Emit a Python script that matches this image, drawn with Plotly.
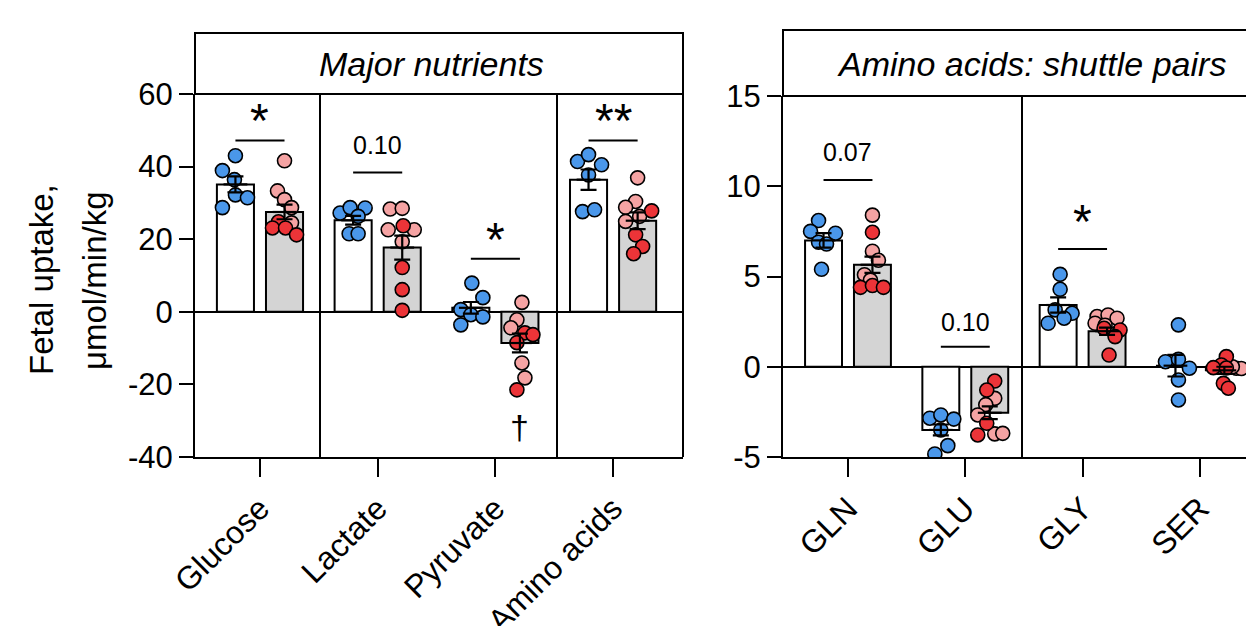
import plotly.graph_objects as go

W, H = 1246, 626

# ---------------- data ----------------
left_categories = ["Glucose", "Lactate", "Pyruvate", "Amino acids"]
right_categories = ["GLN", "GLU", "GLY", "SER"]

left_yticks = [-40, -20, 0, 20, 40, 60]
right_yticks = [-5, 0, 5, 10, 15]

left_ctrl_mean = [35.1, 25.2, 1.1, 36.4]
left_ctrl_sem = [2.2, 1.2, 1.6, 2.8]
left_trt_mean = [27.5, 17.7, -8.6, 25.1]
left_trt_sem = [2.0, 3.3, 2.6, 2.3]

left_ctrl_points = [
    [43.0, 38.9, 36.4, 32.2, 31.4, 28.7],
    [27.2, 28.7, 28.6, 26.3, 21.5, 21.5],
    [7.9, 3.9, 0.6, -0.8, -1.4, -3.6],
    [41.4, 43.3, 40.5, 37.7, 27.6, 28.1],
]
left_trt_points = [
    [41.6, 33.3, 30.9, 28.7, 24.8, 24.5, 23.1, 23.1, 21.2],
    [28.3, 28.5, 23.7, 22.6, 22.6, 19.3, 12.2, 6.1, 0.4],
    [2.6, -2.2, -4.4, -5.8, -6.3, -8.5, -14.1, -18.2, -21.5],
    [36.9, 30.4, 28.8, 27.8, 24.9, 26.3, 21.2, 18.0, 16.0],
]
left_trt_subgroup = ["LLLLDLDDD", "LLDLLLDDD", "LLLDDDLLD", "LLLDLLDDD"]

right_ctrl_mean = [7.0, -3.5, 3.42, 0.06]
right_ctrl_sem = [0.4, 0.3, 0.42, 0.6]
right_trt_mean = [5.65, -2.55, 1.97, -0.2]
right_trt_sem = [0.45, 0.35, 0.2, 0.2]

right_ctrl_points = [
    [8.1, 7.5, 7.4, 6.9, 6.8, 5.4],
    [-2.85, -2.67, -2.9, -3.5, -4.37, -4.83],
    [5.12, 4.29, 3.15, 2.96, 2.69, 2.41],
    [2.32, 0.28, 0.41, -0.08, -0.73, -1.84],
]
right_trt_points = [
    [8.4, 7.45, 6.4, 5.9, 5.1, 4.4, 4.5, 4.4, 4.8],
    [-0.79, -1.29, -1.75, -2.1, -2.67, -3.13, -3.78, -3.72, -3.69],
    [2.78, 2.87, 2.69, 2.41, 2.04, 2.13, 1.67, 2.3, 0.65],
    [0.56, 0.1, -0.05, -0.07, -0.08, -0.1, 0.0, -0.92, -1.19],
]
right_trt_subgroup = ["LDLLLDDDL", "DDLLLDDLL", "LLLLDDDLD", "DDDDLLLDD"]

left_sig_labels = ["*", "0.10", "*", "**"]
left_sig_line_y = [47.2, 38.4, 14.6, 47.2]
left_sig_text_y = [54.3, 46.0, 21.7, 54.3]
right_sig_labels = ["0.07", "0.10", "*", ""]
right_sig_line_y = [10.35, 1.11, 6.53, None]
right_sig_text_y = [11.9, 2.5, 8.4, None]

left_dagger_y = -31.7

# ---------------- layout helpers (positions / styles) ----------------
PX_PER_CAT = 117.5
OFF = 24.5 / PX_PER_CAT
BAR_W = 37 / PX_PER_CAT

left_ctrl_jit = [[0, -13, -1, 0, 12, -13], [-13, -3, 12, 5, -4, 5],
                 [1, 12, -10, 0, 12, -10], [-11, 0, 13, 0, -6, 6]]
left_trt_jit = [[0, -7, 0, 7, -6, 7, -12, 1, 12], [-12, 0, 1, -14, 12, 0, 0, 0, 0],
                [2, -3, -9, 5, 13, -3, 2, 5, -3], [0, -2, -12, 14, -12, 2, -2, 5, -4]]
right_ctrl_jit = [[-5, -13, 12, -5, 3, -2], [-11, 0, 13, 0, 7, -6],
                  [2, 2, -3, 14, 6, -10], [3, -10, 3, 14, 3, 3]]
right_trt_jit = [[0, 0, 0, 6, -8, -12, 0, 11, -2], [5, -3, 5, -4, -12, -3, -12, 5, 13],
                 [-10, 1, 10, -12, 13, -3, 8, -2, 2], [2, -3, -11, 2, 12, 17, 8, -1, 4]]

BLUE = "#4a97ea"
PINK = "#f5a3a3"
RED = "#ec3438"
GRAY = "#d4d4d4"
FONT = "Liberation Sans, Arial, sans-serif"
MSIZE = 14

fig = go.Figure()


def add_panel(xr, yr, cats, cm, cs, tm, ts, cpts, tpts, tsub, cjit, tjit):
    n = len(cats)
    xc = [i - OFF for i in range(n)]
    xt = [i + OFF for i in range(n)]
    fig.add_trace(go.Bar(x=xc, y=cm, width=BAR_W, xaxis=xr, yaxis=yr,
                         marker=dict(color="white", line=dict(color="black", width=2)),
                         showlegend=False, hoverinfo="skip"))
    fig.add_trace(go.Bar(x=xt, y=tm, width=BAR_W, xaxis=xr, yaxis=yr,
                         marker=dict(color=GRAY, line=dict(color="black", width=2)),
                         showlegend=False, hoverinfo="skip"))
    px, py = [], []
    for i in range(n):
        for v, j in zip(cpts[i], cjit[i]):
            px.append(xc[i] + j / PX_PER_CAT)
            py.append(v)
    fig.add_trace(go.Scatter(x=px, y=py, mode="markers", xaxis=xr, yaxis=yr,
                             marker=dict(size=MSIZE, color=BLUE, line=dict(color="black", width=1.6)),
                             showlegend=False, hoverinfo="skip"))
    for shade, col in (("L", PINK), ("D", RED)):
        px, py = [], []
        for i in range(n):
            for v, j, s in zip(tpts[i], tjit[i], tsub[i]):
                if s == shade:
                    px.append(xt[i] + j / PX_PER_CAT)
                    py.append(v)
        fig.add_trace(go.Scatter(x=px, y=py, mode="markers", xaxis=xr, yaxis=yr,
                                 marker=dict(size=MSIZE, color=col, line=dict(color="black", width=1.6)),
                                 showlegend=False, hoverinfo="skip"))
    fig.add_trace(go.Scatter(x=xc + xt, y=cm + tm, mode="markers", xaxis=xr, yaxis=yr,
                             marker=dict(symbol="line-ew", size=17, color="black",
                                         line=dict(color="black", width=2.2)),
                             error_y=dict(type="data", array=cs + ts, color="black",
                                          thickness=2.2, width=8),
                             showlegend=False, hoverinfo="skip"))


add_panel("x", "y", left_categories, left_ctrl_mean, left_ctrl_sem, left_trt_mean,
          left_trt_sem, left_ctrl_points, left_trt_points, left_trt_subgroup,
          left_ctrl_jit, left_trt_jit)
add_panel("x2", "y2", right_categories, right_ctrl_mean, right_ctrl_sem, right_trt_mean,
          right_trt_sem, right_ctrl_points, right_trt_points, right_trt_subgroup,
          right_ctrl_jit, right_trt_jit)


def px_x(p):
    return p / W


def px_y(p):
    return 1 - p / H


def axis_style(**kw):
    d = dict(showgrid=False, zeroline=False, showline=True, linecolor="black",
             linewidth=2, ticks="outside", tickcolor="black", tickwidth=2,
             tickfont=dict(family=FONT, size=31, color="black"), fixedrange=True,
             automargin=False)
    d.update(kw)
    return d


xtickfont = dict(family=FONT, size=32, color="black")

fig.update_layout(
    template="none",
    width=W, height=H, margin=dict(l=0, r=0, t=0, b=0, pad=0), autosize=False,
    paper_bgcolor="white", plot_bgcolor="white", bargap=0, barmode="overlay",
    xaxis=axis_style(domain=[px_x(195), px_x(683)], range=[-0.552, 3.594], anchor="y",
                     tickvals=list(range(len(left_categories))), ticktext=left_categories,
                     tickangle=-45, ticklen=18, tickfont=xtickfont),
    yaxis=axis_style(domain=[px_y(457), px_y(94)], range=[-40, 60], anchor="x",
                     tickvals=left_yticks, ticktext=[str(v) for v in left_yticks],
                     ticklen=14, zeroline=True, zerolinecolor="black", zerolinewidth=1.5),
    xaxis2=axis_style(domain=[px_x(783), 1.0], range=[-0.554, 3.393], anchor="y2",
                      tickvals=list(range(len(right_categories))), ticktext=right_categories,
                      tickangle=-45, ticklen=18, tickfont=xtickfont),
    yaxis2=axis_style(domain=[px_y(457), px_y(96)], range=[-5, 15], anchor="x2",
                      tickvals=right_yticks, ticktext=[str(v) for v in right_yticks],
                      ticklen=14, zeroline=True, zerolinecolor="black", zerolinewidth=1.5),
)

shapes = []
line_style = dict(color="black", width=2)
shapes.append(dict(type="rect", xref="paper", yref="paper", x0=px_x(195), x1=px_x(683),
                   y0=px_y(94), y1=px_y(33), line=line_style, fillcolor="rgba(0,0,0,0)"))
shapes.append(dict(type="rect", xref="paper", yref="paper", x0=px_x(783), x1=1.2,
                   y0=px_y(96), y1=px_y(30), line=line_style, fillcolor="rgba(0,0,0,0)"))
for xp, top in ((320, 94), (557, 94), (683, 94), (1022, 96)):
    shapes.append(dict(type="line", xref="paper", yref="paper", x0=px_x(xp), x1=px_x(xp),
                       y0=px_y(457), y1=px_y(top), line=line_style))
for i, yv in enumerate(left_sig_line_y):
    shapes.append(dict(type="line", xref="x", yref="y", x0=i - OFF, x1=i + OFF,
                       y0=yv, y1=yv, line=line_style))
for i, yv in enumerate(right_sig_line_y):
    if yv is not None:
        shapes.append(dict(type="line", xref="x2", yref="y2", x0=i - OFF, x1=i + OFF,
                           y0=yv, y1=yv, line=line_style))
fig.update_layout(shapes=shapes)

ann = []


def sig_font(label):
    if "*" in label:
        return dict(family=FONT, size=48, color="black")
    return dict(family=FONT, size=25, color="black")


for i, (lab, yv) in enumerate(zip(left_sig_labels, left_sig_text_y)):
    ann.append(dict(x=i, y=yv, xref="x", yref="y", text=lab, showarrow=False,
                    font=sig_font(lab), xanchor="center", yanchor="middle",
                    yshift=-6 if "*" in lab else 0))
for i, (lab, yv) in enumerate(zip(right_sig_labels, right_sig_text_y)):
    if lab:
        ann.append(dict(x=i, y=yv, xref="x2", yref="y2", text=lab, showarrow=False,
                        font=sig_font(lab), xanchor="center", yanchor="middle",
                        yshift=-6 if "*" in lab else 0))
ann.append(dict(x=2 + OFF, y=left_dagger_y, xref="x", yref="y", text="†", showarrow=False,
                font=dict(family=FONT, size=34, color="black"), xanchor="center",
                yanchor="middle"))
ann.append(dict(x=px_x(431), y=px_y(64), xref="paper", yref="paper",
                text="<i>Major nutrients</i>", showarrow=False, xanchor="center",
                font=dict(family=FONT, size=34, color="black"), yanchor="middle"))
ann.append(dict(x=px_x(1031), y=px_y(64), xref="paper", yref="paper",
                text="<i>Amino acids: shuttle pairs</i>", showarrow=False, xanchor="center",
                font=dict(family=FONT, size=34, color="black"), yanchor="middle"))
ann.append(dict(x=px_x(41), y=px_y(280), xref="paper", yref="paper", text="Fetal uptake,",
                showarrow=False, textangle=-90, xanchor="center", yanchor="middle",
                font=dict(family=FONT, size=33, color="black")))
ann.append(dict(x=px_x(94), y=px_y(280), xref="paper", yref="paper", text="μmol/min/kg",
                showarrow=False, textangle=-90, xanchor="center", yanchor="middle",
                font=dict(family=FONT, size=33, color="black")))
fig.update_layout(annotations=ann)

fig.write_html("out.html", config={"displayModeBar": False, "staticPlot": True},
               post_script="document.body.style.margin='0px';")
